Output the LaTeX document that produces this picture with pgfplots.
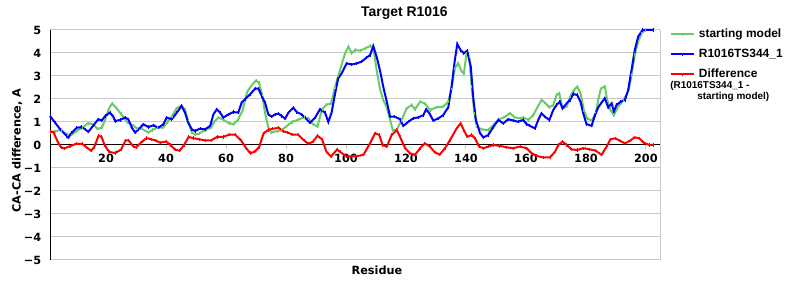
\documentclass[border=0pt]{standalone}
\usepackage{fontspec}
\setmainfont{Liberation Sans}
\newfontfamily\dejavu{DejaVu Sans}
\usepackage{pgfplots}
\pgfplotsset{compat=1.18}
\definecolor{cgreen}{RGB}{102,204,102}
\definecolor{cgrid}{RGB}{200,200,200}

\pgfplotstableread{
x y
1.3 1.26
3 0.97
4.7 0.68
6.9 0.39
7.4 0.32
8.6 0.54
10.2 0.75
11.9 0.78
13 0.68
14.1 0.57
15.8 0.86
17.4 1.12
18.6 1.07
19.7 1.26
21.3 1.41
22.4 1.23
23 1.04
24.7 1.09
26.3 1.19
27.4 1.12
28.6 0.75
29.7 0.54
30.8 0.68
32.4 0.90
34.1 0.78
35.8 0.86
37.4 0.75
39.1 0.90
40.2 1.19
41.9 1.12
43.6 1.41
45.2 1.70
46.3 1.41
47.4 0.97
48.6 0.68
49.7 0.61
51.3 0.71
53 0.68
54.7 0.83
55.8 1.33
56.9 1.55
58 1.41
59.1 1.19
60.8 1.33
62.4 1.43
64.1 1.41
65.2 1.84
66.3 1.99
68 2.20
69.7 2.45
70.8 2.45
71.9 2.13
73 1.84
74.1 1.33
75.2 1.23
76.3 1.33
77.4 1.36
78.6 1.26
79.7 1.14
80.8 1.41
82.4 1.62
83.6 1.43
85.2 1.33
86.3 1.19
88 0.97
89.7 1.19
91.3 1.55
93 1.41
94.1 1.00
95.2 1.41
96.3 2.20
97.4 2.90
98.5 3.10
100.2 3.55
101.9 3.50
103.6 3.55
105.2 3.62
106.9 3.81
108 3.90
109.1 4.30
110.2 3.84
111.3 3.26
112.4 2.54
113.6 1.88
114.7 1.23
116.3 1.23
118 1.12
119.1 0.83
120.8 1.01
122.4 1.16
124.1 1.20
125.8 1.30
126.7 1.55
127.8 1.38
129.1 1.06
130.8 1.16
132.4 1.30
134.1 1.64
135.2 2.54
136.3 3.70
137.1 4.39
138.2 4.13
139.3 3.99
140.4 4.10
141.6 3.41
142.4 2.10
143.3 1.09
144.7 0.51
145.8 0.33
147.4 0.43
149.1 0.78
150.8 1.09
152.4 0.94
154.1 1.12
155.8 1.06
157.4 1.01
159.1 1.09
160.2 0.91
161.3 0.83
163 0.72
164.1 1.09
165.2 1.38
166.3 1.23
167.8 1.09
169.1 1.52
170.2 1.74
171.3 1.88
172.2 1.59
173.6 1.81
174.7 1.96
175.8 2.22
177.1 2.17
178.2 1.88
179.1 1.38
180.2 0.91
181.9 0.83
183 1.30
184.1 1.64
185.2 1.84
186.3 2.03
187.4 1.64
188.6 1.81
189.3 1.45
190.2 1.74
191.6 1.88
193 1.96
194.1 2.39
195.2 3.26
196.3 4.13
197.4 4.71
198.9 5.00
202.4 5.00
}\bluedata

\pgfplotstableread{
x y
1.3 0.55
3 0.60
5 0.65
7 0.45
8.6 0.45
10 0.60
12 0.75
14 0.95
15.8 0.90
17 0.70
18.6 0.75
19.7 1.10
21 1.60
22 1.80
23.5 1.60
25 1.35
27 1.00
29 0.85
30.5 0.70
32 0.70
34 0.55
35.5 0.65
37 0.75
39 0.75
40.5 1.00
42 1.25
43.5 1.60
45 1.70
46.3 1.55
47.4 1.00
48.6 0.55
49.7 0.45
51 0.50
53 0.65
55 0.75
56 1.00
57.5 1.20
59 1.10
61 0.95
62.5 0.90
64 1.10
65.5 1.50
67 2.30
68.5 2.60
70 2.80
71 2.70
72 2.20
73 1.40
74 0.80
75 0.55
77 0.60
78.6 0.65
80 0.80
82 1.00
84 1.10
86 1.20
87.5 1.15
89 0.90
90.5 0.80
92 1.55
93.5 1.75
95 1.80
96.3 2.50
97.4 3.00
98 3.26
99.7 3.99
100.8 4.28
101.9 3.99
103 4.13
104.7 4.10
106.3 4.20
108 4.30
109.1 4.28
110.2 3.26
111.3 2.46
112.4 1.96
113.6 1.64
114.7 1.09
115.6 0.65
116.9 0.65
118.6 1.09
120.2 1.59
121.9 1.74
123 1.55
124.7 1.88
126.3 1.81
128 1.52
130.2 1.64
132.4 1.67
134.1 1.88
135.2 2.46
136.3 3.33
137.4 3.55
138.6 3.19
139.3 3.12
140.2 3.99
141.1 3.84
141.9 2.54
142.8 1.38
143.6 0.80
145.2 0.68
147.4 0.65
149.1 0.87
150.8 1.09
153 1.23
154.7 1.38
156.3 1.20
158 1.16
159.1 1.20
160.8 1.09
162.4 1.30
164.1 1.70
165.2 1.96
166.3 1.84
167.8 1.64
169.1 1.74
170.2 2.17
171.1 2.25
172.2 1.59
173.6 1.67
174.7 2.10
176 2.39
177.1 2.54
178.2 2.25
179.3 1.52
180.4 1.16
181.9 1.06
183.3 1.38
184.1 1.96
185 2.46
186.3 2.54
187.1 1.96
188.2 1.52
189.3 1.30
190.8 1.67
192.4 1.93
194.1 2.32
195.2 3.04
196.3 3.91
197.4 4.49
198.6 4.86
199.7 5.00
202.4 5.00
}\greendata

\pgfplotstableread{
x y
1.3 0.60
2.5 0.55
4 0.10
5 -0.10
6 -0.15
8 -0.05
10 0.05
12 0.05
13.5 -0.10
15 -0.25
16 -0.10
17.5 0.40
18.5 0.35
19.5 0.00
21 -0.30
23 -0.35
25 -0.20
26.5 0.20
27.5 0.20
29 -0.05
30 -0.10
32 0.15
33.5 0.30
35 0.25
36.5 0.20
38 0.10
40 0.15
41.5 0.00
43 -0.20
44.5 -0.25
46 0.00
47.5 0.35
49 0.30
51 0.25
53 0.20
55 0.20
57 0.35
59 0.35
61 0.45
63 0.45
65 0.20
66.5 -0.10
68 -0.35
69.5 -0.30
71 -0.10
72.5 0.50
74 0.65
75.5 0.70
77.5 0.75
79 0.60
80.5 0.55
82 0.45
84 0.45
86 0.20
87.5 0.05
89 0.15
90.5 0.40
92 0.25
93.5 -0.30
95 -0.50
97 -0.20
98 -0.30
100.2 -0.50
103 -0.50
105.8 -0.43
108 0.07
109.7 0.51
111.1 0.43
112.2 0.00
113.6 -0.07
115.2 0.43
116.9 0.65
118 0.36
119.7 -0.14
121.3 -0.36
123 -0.43
124.7 -0.14
126.3 0.07
128 -0.07
129.7 -0.33
131.3 -0.41
133 -0.14
134.7 0.22
136.9 0.72
138.2 0.94
139.3 0.65
140.4 0.36
141.9 0.43
143 0.29
144.4 -0.07
145.8 -0.14
147.4 -0.07
149.1 0.00
151.3 -0.04
153.6 -0.10
155.8 -0.14
158 -0.07
160.2 -0.14
161.9 -0.36
163.6 -0.48
165.8 -0.54
168 -0.54
169.7 -0.29
170.8 0.00
172.2 0.14
173.6 0.00
175.2 -0.19
177.1 -0.22
179.1 -0.14
181.3 -0.19
183.3 -0.25
185.2 -0.43
186.9 -0.07
188.2 0.25
189.7 0.29
191.3 0.19
193 0.07
194.7 0.19
196.3 0.33
197.8 0.29
199.3 0.10
201.1 0.00
202.4 0.00
}\reddata

\begin{document}
\begin{tikzpicture}
\begin{axis}[
  name=ax,
  scale only axis,
  width=457.5bp, height=172.5bp,
  xmin=1.3, xmax=204.7, ymin=-5, ymax=5,
  axis x line*=middle, axis y line*=left,
  x axis line style={black, line width=0.75bp, -},
  y axis line style={black, line width=0.75bp, -},
  xtick={20,40,...,200},
  ytick={-5,-4,...,5},
  yticklabels={−5,−4,−3,−2,−1,0,1,2,3,4,5},
  ymajorgrids,
  grid style={cgrid, line width=0.75bp},
  xtick style={cgrid, line width=0.75bp},
  ytick style={draw=none},
  major tick length=3bp,
  tick align=outside,
  /pgf/number format/assume math mode=true,
  tick label style={font=\dejavu\bfseries\fontsize{8.5}{10}\selectfont},
  xlabel={\dejavu\bfseries Residue},
  xlabel style={at={(rel axis cs:0.536,-0.0435)}, anchor=center, font=\fontsize{8.5}{10}\selectfont},
  ylabel={\dejavu\bfseries CA-CA difference, A},
  ylabel style={at={(rel axis cs:-0.054,0.476)}, anchor=center, font=\fontsize{8.5}{10}\selectfont},
  clip=false,
  legend cell align=left,
  legend image code/.code={\draw[mark repeat=2,mark phase=2,#1] plot coordinates {(0bp,0bp) (8.5bp,0bp) (17bp,0bp)};},
  legend style={at={(rel axis cs:1.0164,1.0087)}, anchor=north west, draw=none, fill=none,
    font=\bfseries\fontsize{9}{10}\selectfont, inner sep=0pt, row sep=6bp,
    nodes={inner sep=0pt, text height=7bp, text depth=2bp},
    /tikz/every odd column/.append style={column sep=3bp}},
  every axis plot/.append style={line width=1.5bp, mark=|, mark size=1.2bp, mark options={line width=0.6bp}},
]
\addplot[cgreen] table[x=x,y=y] {\greendata};
\addlegendentry{starting model}
\addplot[blue] table[x=x,y=y] {\bluedata};
\addlegendentry{R1016TS344\_1}
\addplot[red] table[x=x,y=y] {\reddata};
\addlegendentry{Difference}
\draw[cgrid, line width=0.75bp] (rel axis cs:1,0) -- (rel axis cs:1,1);
\node[font=\bfseries\fontsize{10.5}{12}\selectfont] at (rel axis cs:0.581,1.074) {Target R1016};
\node[anchor=west, inner sep=0pt, font=\bfseries\fontsize{7.5}{9}\selectfont] at (rel axis cs:1.0164,0.7565) {(R1016TS344\_1 -};
\node[anchor=west, inner sep=0pt, font=\bfseries\fontsize{7.5}{9}\selectfont] at (rel axis cs:1.0607,0.7087) {starting model)};
\end{axis}
\pgfresetboundingbox
\path[use as bounding box] ([shift={(-37.5bp,-30bp)}]ax.south west) rectangle ([shift={(105bp,22.5bp)}]ax.north east);
\end{tikzpicture}
\end{document}
